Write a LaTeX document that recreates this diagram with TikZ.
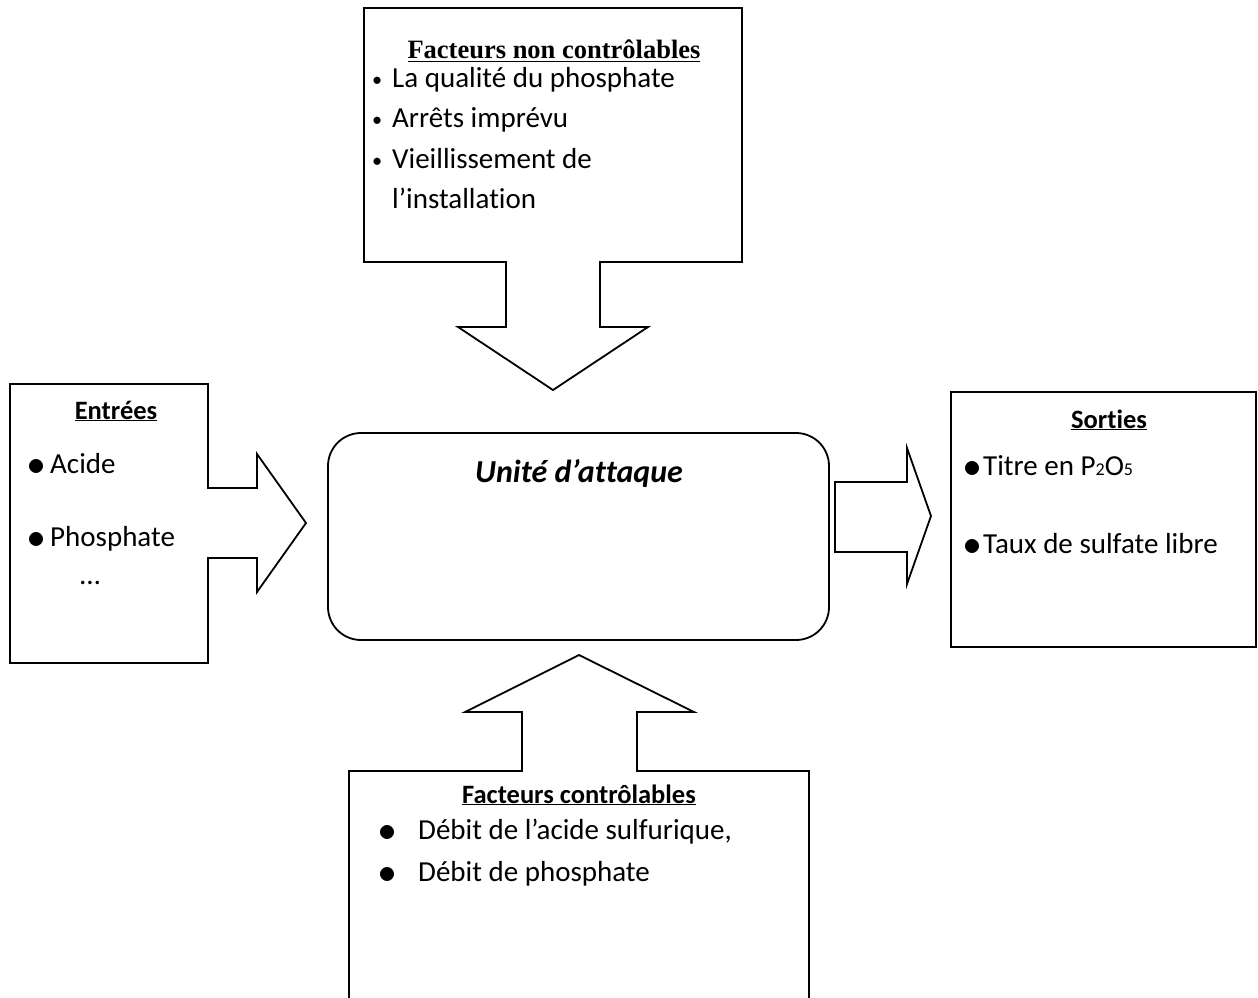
\documentclass[tikz,border=0pt]{standalone}
\usepackage{fontspec}
\setmainfont{Carlito}[Ligatures=NoCommon]
\newfontfamily\titreserif{Liberation Serif}
\usepackage{tikz}

\newcommand{\petitpoint}{\makebox[20pt][l]{\raisebox{1pt}{\scalebox{0.7}{\textbullet}}}}
\newcommand{\grospoint}[1]{\makebox[#1][l]{\hspace{-3.5pt}\raisebox{-2.5pt}{\scalebox{1.45}{$\bullet$}}}}

\begin{document}
\begin{tikzpicture}[x=1pt, y=-1pt,
    contour/.style={line width=1.8pt, line join=miter},
    corps/.style={anchor=base west, inner sep=0pt, font=\fontsize{29}{34}\selectfont},
    titre/.style={anchor=base, inner sep=0pt, font=\fontsize{26.5}{32}\selectfont\bfseries}]

  \useasboundingbox (0,0) rectangle (1258,998);

  %--- Facteurs non controlables (haut) + fleche vers le bas ---
  \draw[contour] (506,262) -- (364,262) -- (364,8) -- (742,8) -- (742,262) -- (600,262)
    -- (600,327) -- (648,327) -- (553,390) -- (458,327) -- (506,327) -- cycle;
  \node[titre, font=\fontsize{26.5}{32}\selectfont\titreserif\bfseries] (nctitre) at (554,59) {\underline{Facteurs non contrôlables}};
  \node[corps] (nc1) at (372,87) {\petitpoint La qualité du phosphate};
  \node[corps] (nc2) at (372,127.5) {\petitpoint Arrêts imprévu};
  \node[corps] (nc3) at (372,168) {\petitpoint Vieillissement de};
  \node[corps] (nc4) at (392,208) {l’installation};

  %--- Entrees + fleche vers la droite ---
  \draw[contour] (208,558) -- (208,663) -- (10,663) -- (10,384) -- (208,384) -- (208,488)
    -- (257,488) -- (257,454) -- (306,523) -- (257,592) -- (257,558) -- cycle;
  \node[titre] (entitre) at (116,419) {\underline{Entrées}};
  \node[corps] (en1) at (31,473) {\grospoint{19pt}Acide};
  \node[corps] (en2) at (31,546) {\grospoint{19pt}Phosphate};
  \node[corps] (en3) at (80,584) {…};

  %--- Unite d'attaque ---
  \draw[contour, rounded corners=33pt] (328,433) rectangle (829,640);
  \node[titre, font=\fontsize{32}{38}\selectfont\bfseries\itshape] (unite) at (579,482) {Unité d’attaque};

  %--- Fleche vers les sorties ---
  \draw[contour] (835,482) -- (907,482) -- (907,448) -- (931,516) -- (907,584) -- (907,552)
    -- (835,552) -- cycle;

  %--- Sorties ---
  \draw[contour] (951,392) rectangle (1256,647);
  \node[titre] (sotitre) at (1109,428) {\underline{Sorties}};
  \node[corps] (so1) at (967,475) {\grospoint{16pt}Titre en P{\fontsize{18}{20}\selectfont 2}O{\fontsize{18}{20}\selectfont 5}};
  \node[corps] (so2) at (967,553) {\grospoint{16pt}Taux de sulfate libre};

  %--- Facteurs controlables (bas) + fleche vers le haut ---
  \draw[contour] (349,998) -- (349,771) -- (522,771) -- (522,712) -- (465,712) -- (579,655)
    -- (694,712) -- (637,712) -- (637,771) -- (809,771) -- (809,998);
  \node[titre] (cotitre) at (579,803) {\underline{Facteurs contrôlables}};
  \node[corps] (co1) at (382,839) {\grospoint{36pt}Débit de l’acide sulfurique,};
  \node[corps] (co2) at (382,881) {\grospoint{36pt}Débit de phosphate};

\end{tikzpicture}
\end{document}
